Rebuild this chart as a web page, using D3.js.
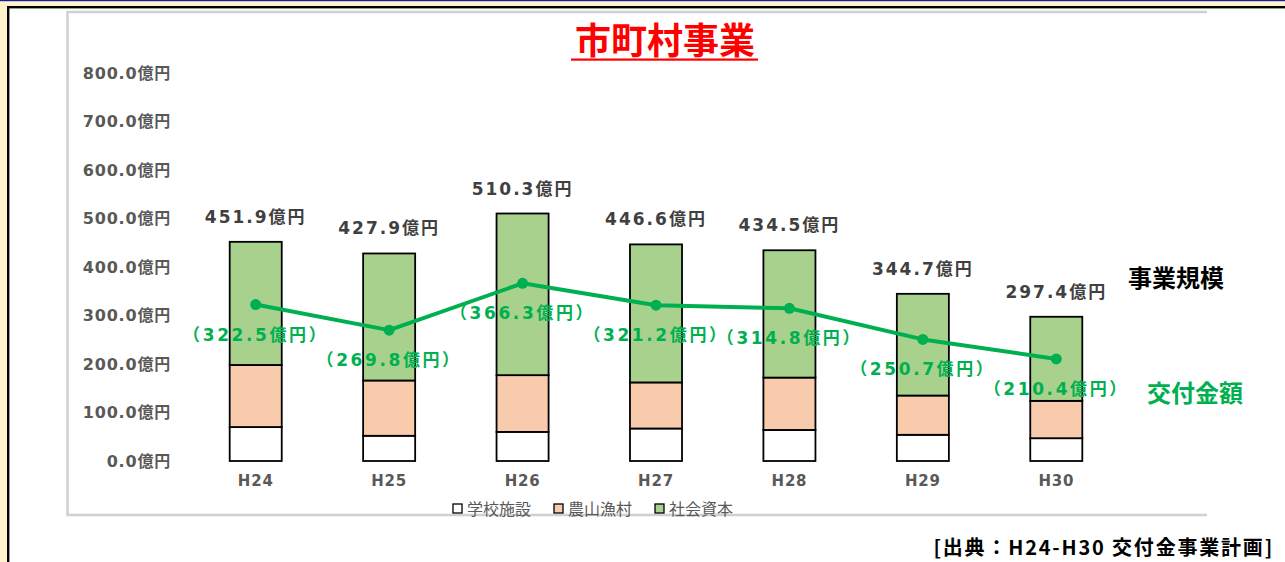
<!DOCTYPE html>
<html>
<head>
<meta charset="utf-8">
<script src="https://cdn.jsdelivr.net/npm/d3@7"></script>
<style>
  html, body { margin: 0; padding: 0; background: #fff; }
  svg { display: block; }
  text { font-family: "DejaVu Sans", "Noto Sans CJK JP", sans-serif; }
</style>
</head>
<body>
<svg width="1285" height="562"></svg>
<script>
// 年度
var years = ["H24", "H25", "H26", "H27", "H28", "H29", "H30"];
// 内訳（億円）
var school = [70, 52, 60, 67, 64, 54, 47];          // 学校施設
var rural = [128, 114, 117, 95, 108, 81, 77];       // 農山漁村
var social = [253.9, 261.9, 333.3, 284.6, 262.5, 209.7, 173.4]; // 社会資本
// 事業規模（合計）
var totals = [451.9, 427.9, 510.3, 446.6, 434.5, 344.7, 297.4];
// 交付金額
var grant = [322.5, 269.8, 366.3, 321.2, 314.8, 250.7, 210.4];
var yTicks = [0, 100, 200, 300, 400, 500, 600, 700, 800];
var seriesNames = ["学校施設", "農山漁村", "社会資本"];

var svg = d3.select("svg");
var W = 1285, H = 562;

// 外枠
svg.append("rect").attr("x", 0).attr("y", 0).attr("width", W).attr("height", H).attr("fill", "#fff");
svg.append("rect").attr("x", 0).attr("y", 0).attr("width", 8).attr("height", H).attr("fill", "#fff2cc");
svg.append("rect").attr("x", 0).attr("y", 0).attr("width", W).attr("height", 6).attr("fill", "#fff2cc");
svg.append("rect").attr("x", 0).attr("y", 0).attr("width", W).attr("height", 1.2).attr("fill", "#1a1aa6");
svg.append("rect").attr("x", 7).attr("y", 6).attr("width", W - 7).attr("height", 2.4).attr("fill", "#000");
svg.append("rect").attr("x", 7).attr("y", 6).attr("width", 2.4).attr("height", H - 6).attr("fill", "#000");

// グラフ枠（薄いグレー）
var box = svg.append("g").attr("stroke", "#d0d0d0").attr("stroke-width", 2.5).attr("fill", "none");
box.append("path").attr("d", "M1207,12 H67.5 V515 H1207");

var x = d3.scaleBand()
    .domain(years)
    .range([189, 1123])
    .paddingInner(0.61)
    .paddingOuter(0.305);

var y = d3.scaleLinear()
    .domain([0, 800])
    .range([461, 73]);

var color = d3.scaleOrdinal()
    .domain(seriesNames)
    .range(["#ffffff", "#f8cbad", "#a9d18e"]);

var rows = years.map(function(d, i) {
  return { year: d, "学校施設": school[i], "農山漁村": rural[i], "社会資本": social[i] };
});

var stack = d3.stack().keys(seriesNames);

// タイトル
svg.append("text")
    .attr("x", 665).attr("y", 54)
    .attr("text-anchor", "middle")
    .attr("fill", "#ff0000")
    .style("font-family", "'Noto Sans CJK JP', sans-serif")
    .style("font-weight", "bold")
    .style("font-size", "36px")
    .text("市町村事業");
svg.append("rect").attr("x", 571).attr("y", 58.5).attr("width", 187).attr("height", 2.2).attr("fill", "#ff0000");

// Y軸
var yAxis = svg.append("g")
    .attr("transform", "translate(171,0)")
    .call(d3.axisLeft(y).tickValues(yTicks).tickSize(0).tickPadding(0)
      .tickFormat(function(d) { return d.toFixed(1) + "億円"; }));
yAxis.select(".domain").remove();
yAxis.selectAll("text")
    .attr("fill", "#595959")
    .style("font-size", "16px")
    .style("font-weight", "bold")
    .style("letter-spacing", "0.8px")
    .style("font-family", "'DejaVu Sans', 'Noto Sans CJK JP', sans-serif");

// X軸
var xAxis = svg.append("g")
    .attr("transform", "translate(0,471)")
    .call(d3.axisBottom(x).tickSize(0).tickPadding(4));
xAxis.select(".domain").remove();
xAxis.selectAll("text")
    .attr("fill", "#595959")
    .style("font-size", "15px")
    .style("font-weight", "bold")
    .style("letter-spacing", "0.8px")
    .style("font-family", "'DejaVu Sans', sans-serif");

// 積み上げ棒
var serie = svg.selectAll(".serie")
  .data(stack(rows))
  .enter().append("g")
    .attr("class", "serie")
    .attr("fill", function(d) { return color(d.key); });

serie.selectAll("rect")
  .data(function(d) { return d; })
  .enter().append("rect")
    .attr("x", function(d) { return x(d.data.year); })
    .attr("y", function(d) { return y(d[1]); })
    .attr("height", function(d) { return y(d[0]) - y(d[1]); })
    .attr("width", x.bandwidth())
    .attr("stroke", "#000")
    .attr("stroke-width", 1.8);

// 合計ラベル
svg.selectAll(".total")
  .data(totals)
  .enter().append("text")
    .attr("class", "total")
    .attr("x", function(d, i) { return x(years[i]) + x.bandwidth() / 2; })
    .attr("y", function(d) { return y(d) - 19; })
    .attr("text-anchor", "middle")
    .attr("fill", "#404040")
    .style("font-size", "17px")
    .style("font-weight", "bold")
    .style("letter-spacing", "2px")
    .text(function(d) { return d.toFixed(1) + "億円"; });

// 交付金額の折れ線
var line = d3.line()
    .x(function(d, i) { return x(years[i]) + x.bandwidth() / 2; })
    .y(function(d) { return y(d); });

svg.append("path")
    .datum(grant)
    .attr("fill", "none")
    .attr("stroke", "#00b050")
    .attr("stroke-width", 4)
    .attr("stroke-linejoin", "round")
    .attr("d", line);

svg.selectAll(".pt")
  .data(grant)
  .enter().append("circle")
    .attr("class", "pt")
    .attr("cx", function(d, i) { return x(years[i]) + x.bandwidth() / 2; })
    .attr("cy", function(d) { return y(d); })
    .attr("r", 5.5)
    .attr("fill", "#00b050");

svg.selectAll(".glabel")
  .data(grant)
  .enter().append("text")
    .attr("class", "glabel")
    .attr("x", function(d, i) { return x(years[i]) + x.bandwidth() / 2; })
    .attr("y", function(d) { return y(d) + 36; })
    .attr("text-anchor", "middle")
    .attr("fill", "#00b050")
    .style("font-size", "17px")
    .style("font-weight", "bold")
    .style("letter-spacing", "2.6px")
    .text(function(d) { return "（" + d.toFixed(1) + "億円）"; });

// 右側ラベル
svg.append("text")
    .attr("x", 1128).attr("y", 287)
    .attr("fill", "#000")
    .style("font-family", "'Noto Sans CJK JP', sans-serif")
    .style("font-weight", "bold")
    .style("font-size", "24px")
    .text("事業規模");
svg.append("text")
    .attr("x", 1147).attr("y", 402)
    .attr("fill", "#00b050")
    .style("font-family", "'Noto Sans CJK JP', sans-serif")
    .style("font-weight", "bold")
    .style("font-size", "24px")
    .text("交付金額");

// 凡例
var legend = svg.append("g").attr("transform", "translate(453,509)");
var lx = 0;
seriesNames.forEach(function(name) {
  var item = legend.append("g").attr("transform", "translate(" + lx + ",0)");
  item.append("rect")
      .attr("x", 0).attr("y", -5)
      .attr("width", 9).attr("height", 9)
      .attr("fill", color(name))
      .attr("stroke", "#000")
      .attr("stroke-width", 1.3);
  item.append("text")
      .attr("x", 14).attr("y", 0)
      .attr("dy", "0.38em")
      .attr("fill", "#595959")
      .style("font-family", "'Noto Sans CJK JP', sans-serif")
      .style("font-size", "16px")
      .text(name);
  lx += 101;
});

// 出典
svg.append("text")
    .attr("x", 1274).attr("y", 555)
    .attr("text-anchor", "end")
    .attr("fill", "#000")
    .style("font-family", "'Noto Sans CJK JP', sans-serif")
    .style("font-weight", "bold")
    .style("font-size", "20px")
    .style("letter-spacing", "1.8px")
    .text("[出典：H24-H30 交付金事業計画]");
</script>
</body>
</html>
